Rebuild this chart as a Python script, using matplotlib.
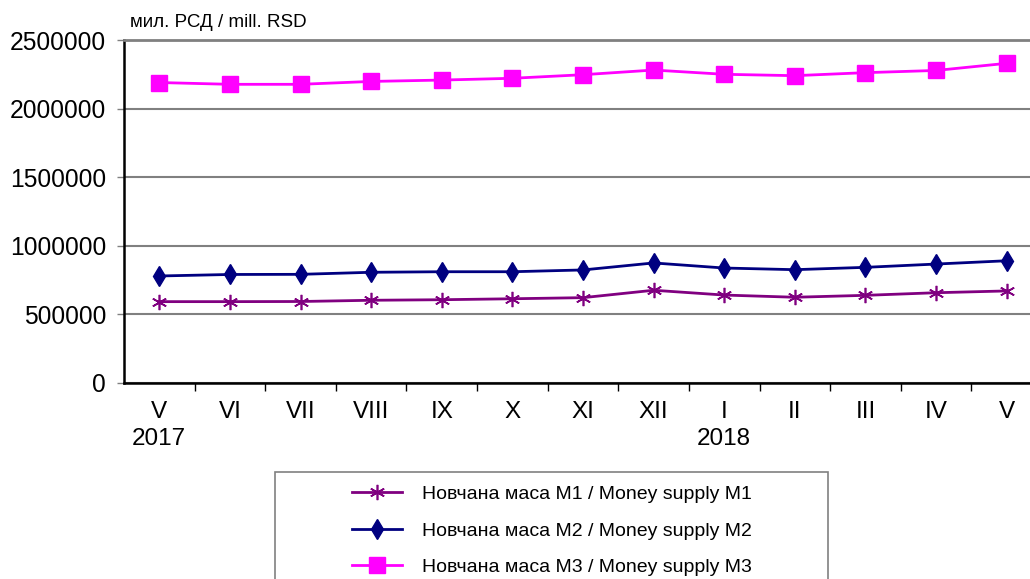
import matplotlib
matplotlib.use("Agg")
import matplotlib.pyplot as plt
from matplotlib.patches import Rectangle
from matplotlib.ticker import FixedLocator, NullFormatter

plt.rcParams['font.family'] = ['Liberation Sans', 'DejaVu Sans']

months = ["V\n2017", "VI", "VII", "VIII", "IX", "X", "XI", "XII", "I\n2018", "II", "III", "IV", "V"]
m1 = [593000, 593000, 594000, 603000, 607000, 614000, 622000, 676000, 641000, 625000, 639000, 658000, 671000]
m2 = [780000, 791000, 792000, 807000, 811000, 811000, 824000, 875000, 838000, 826000, 843000, 867000, 891000]
m3 = [2190000, 2177000, 2177000, 2198000, 2208000, 2221000, 2247000, 2281000, 2250000, 2240000, 2262000, 2278000, 2330000]
labels = ["Новчана маса М1 / Money supply M1",
          "Новчана маса М2 / Money supply M2",
          "Новчана маса М3 / Money supply M3"]
yticks = [0, 500000, 1000000, 1500000, 2000000, 2500000]

W, H = 1030, 579
fig = plt.figure(figsize=(W / 100, H / 100), dpi=100)
ax = fig.add_axes([124 / W, 1 - 383 / H, 918 / W, 343 / H])

x = list(range(len(months)))
h1, = ax.plot(x, m1, color='#800080', lw=2.0, marker=(6, 2, 0), ms=11, mew=1.2, zorder=3)
h2, = ax.plot(x, m2, color='#000080', lw=2.0, marker='d', ms=10, zorder=3)
h3, = ax.plot(x, m3, color='#FF00FF', lw=2.0, marker='s', ms=11, zorder=3)

ax.set_xlim(-0.5, len(months) - 0.5)
ax.set_ylim(0, 2500000)
ax.set_yticks(yticks)
ax.set_yticklabels([str(v) for v in yticks], fontsize=17.7)
ax.yaxis.grid(True, color='#808080', lw=1.5)
ax.set_axisbelow(True)
ax.tick_params(axis='y', length=5, width=1, color='#808080', pad=8)

ax.set_xticks(x)
ax.set_xticklabels(months, fontsize=17.5, linespacing=1.3)
ax.tick_params(axis='x', which='major', length=0, pad=13)
ax.xaxis.set_minor_locator(FixedLocator([i - 0.5 for i in range(1, len(months) + 1)]))
ax.xaxis.set_minor_formatter(NullFormatter())
ax.tick_params(axis='x', which='minor', length=6, width=1, color='black')

for s in ['left', 'bottom']:
    ax.spines[s].set_color('black')
    ax.spines[s].set_linewidth(1.8)
ax.spines['top'].set_color('#808080')
ax.spines['top'].set_linewidth(2)
ax.spines['right'].set_visible(False)

fig.text(130 / W, 1 - 22.5 / H, "мил. РСД / mill. RSD", fontsize=13.5, va='center', ha='left')

fig.patches.append(Rectangle((275 / W, -0.1), (828 - 275) / W, 0.1 + (1 - 472 / H),
                             transform=fig.transFigure, fill=False, edgecolor='#808080', lw=1.2))
leg = fig.legend([h1, h2, h3], labels, loc='upper left',
                 bbox_to_anchor=(334 / W, 1 - 468 / H), frameon=False,
                 fontsize=14, handlelength=2.6, handletextpad=1.0, labelspacing=0.97)

fig.savefig("out.png", dpi=100)
